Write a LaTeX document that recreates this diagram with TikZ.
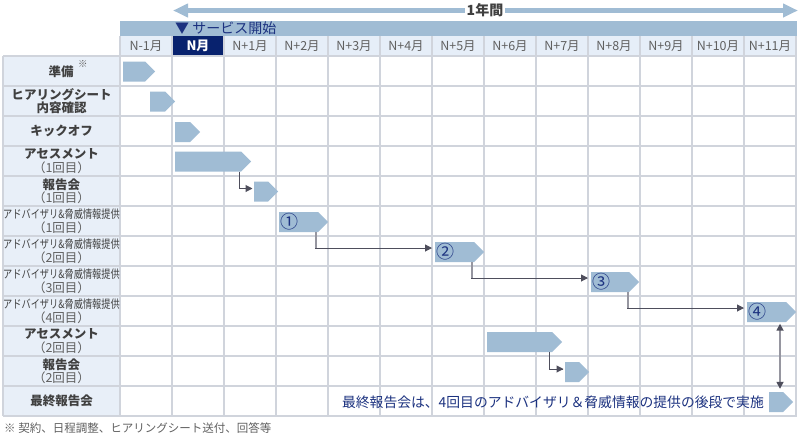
\documentclass[tikz,border=0pt]{standalone}
\usepackage{fontspec}
\setmainfont{Noto Sans CJK JP}
\usetikzlibrary{shapes.symbols,arrows.meta,calc}
\definecolor{barblue}{RGB}{160,188,212}
\definecolor{navy}{RGB}{8,34,110}
\definecolor{navytext}{RGB}{28,50,128}
\definecolor{labelbg}{RGB}{232,239,248}
\definecolor{monthbg}{RGB}{230,238,248}
\definecolor{gridc}{RGB}{208,212,220}
\definecolor{txt}{RGB}{64,64,64}
\definecolor{subtxt}{RGB}{96,96,96}
\definecolor{monthtxt}{RGB}{96,96,96}
\definecolor{conn}{RGB}{78,78,92}
\definecolor{connv}{RGB}{150,150,160}
\begin{document}
\begin{tikzpicture}[x=1pt,y=-1pt,
  bar/.style={shape=signal, signal to=east, signal pointer angle=90, fill=barblue, draw=none, inner sep=0pt, minimum height=20pt, anchor=west},
  gridline/.style={draw=gridc, line width=1.2pt},
  month/.style={font=\fontsize{12.5}{13}\selectfont, text=monthtxt, inner sep=0pt},
  lab/.style={align=center, inner sep=0pt, text=txt, font=\fontsize{12.5}{13.5}\selectfont\bfseries},
  advlab/.style={align=center, inner sep=0pt, text=txt, font=\fontsize{11}{13.5}\selectfont},
  circnum/.style={anchor=west, inner sep=0pt, text=navytext, font=\fontsize{18}{18}\selectfont},
  connh/.style={draw=conn, line width=1pt, -{Triangle[length=7pt,width=7pt]}},
  connvert/.style={draw=connv, line width=1.8pt},
  conndark/.style={draw=conn, line width=1pt}
]
\useasboundingbox (0,0) rectangle (800,440);
\fill[white] (0,0) rectangle (800,440);

% top "1 year" arrow
\coordinate (ys) at (173,10.5);
\coordinate (ye) at (798,10.5);
\draw[barblue, line width=5pt, {Triangle[length=15pt,width=13pt]}-{Triangle[length=15pt,width=13pt]}] (ys) -- (ye);
\node[fill=white, inner sep=2pt, text=txt, font=\fontsize{14}{14}\selectfont\bfseries] (year) at (485,10.5) {1年間};

% service start bar
\fill[barblue] (120,21) rectangle (797,36);
\node[anchor=west, inner sep=0pt, text=navytext, font=\fontsize{14}{14}\selectfont] (start) at (175,28.5) {▼ サービス開始};

% month row
\fill[monthbg] (120,36) rectangle (797,56);
\fill[navy] (172,36) rectangle (224,56);
% label column
\fill[labelbg] (3,56) rectangle (120,416);

% grid
\foreach \i in {0,...,12} \draw[gridline] (3,{56+30*\i}) -- (797,{56+30*\i});
\draw[gridline] (3,56) -- (3,416);
\draw[gridline] (120,36) -- (120,416);
\foreach \x in {172,224,...,744} \draw[gridline] (\x,36) -- (\x,416);
\draw[gridline] (796,36) -- (796,416);
\fill[navy] (172.6,36) rectangle (223.4,55.4);

% month labels
\node[month] (m0) at (146,46) {N-1月};
\node[month, text=white, font=\fontsize{13}{13}\selectfont\bfseries] (m1) at (198,46) {N月};
\foreach \k [evaluate=\k as \xc using 198+52*\k] in {1,...,11}
  \node[month] (m\k x) at (\xc,46) {N+\k 月};

% row labels
\node[lab] (l1) at (61,71.5) {準備};
\node[anchor=west, inner sep=0pt, text=subtxt, font=\fontsize{9.5}{9.5}\selectfont] (note) at (78,64) {※};
\node[lab] (l2) at (61.5,101) {ヒアリングシート\\内容確認};
\node[lab] (l3) at (61.5,131) {キックオフ};
\node[lab] (l4) at (61.5,161) {アセスメント\\{\mdseries\color{subtxt}\fontsize{12.5}{13.5}\selectfont （1回目）}};
\node[lab] (l5) at (61.5,191) {報告会\\{\mdseries\color{subtxt}\fontsize{12.5}{13.5}\selectfont （1回目）}};
\node[advlab] (l6) at (61.5,221) {\scalebox{0.8}[1]{\fontsize{11.5}{13.5}\selectfont アドバイザリ\&脅威情報提供}\\{\color{subtxt}\fontsize{12.5}{13.5}\selectfont （1回目）}};
\node[advlab] (l7) at (61.5,251) {\scalebox{0.8}[1]{\fontsize{11.5}{13.5}\selectfont アドバイザリ\&脅威情報提供}\\{\color{subtxt}\fontsize{12.5}{13.5}\selectfont （2回目）}};
\node[advlab] (l8) at (61.5,281) {\scalebox{0.8}[1]{\fontsize{11.5}{13.5}\selectfont アドバイザリ\&脅威情報提供}\\{\color{subtxt}\fontsize{12.5}{13.5}\selectfont （3回目）}};
\node[advlab] (l9) at (61.5,311) {\scalebox{0.8}[1]{\fontsize{11.5}{13.5}\selectfont アドバイザリ\&脅威情報提供}\\{\color{subtxt}\fontsize{12.5}{13.5}\selectfont （4回目）}};
\node[lab] (l10) at (61.5,341) {アセスメント\\{\mdseries\color{subtxt}\fontsize{12.5}{13.5}\selectfont （2回目）}};
\node[lab] (l11) at (61.5,371) {報告会\\{\mdseries\color{subtxt}\fontsize{12.5}{13.5}\selectfont （2回目）}};
\node[lab] (l12) at (61.5,401) {最終報告会};

% bars
\node[bar, minimum width=32pt] (b1) at (123,71.5) {};
\node[bar, minimum width=25pt] (b2) at (150,101.5) {};
\node[bar, minimum width=25pt] (b3) at (175,132) {};
\node[bar, minimum width=76pt] (b4) at (175,161.5) {};
\node[bar, minimum width=24pt] (b5) at (254,191.5) {};
\node[bar, minimum width=49pt] (b6) at (279,222) {};
\node[bar, minimum width=49pt] (b7) at (435,252) {};
\node[bar, minimum width=48pt] (b8) at (591,282) {};
\node[bar, minimum width=49pt] (b9) at (747,312) {};
\node[bar, minimum width=75pt] (b10) at (487,342) {};
\node[bar, minimum width=24pt] (b11) at (565,372) {};
\node[bar, minimum width=24pt] (b12) at (769,402) {};

% circled numbers
\node[circnum] (n1) at ([xshift=1pt]b6.west) {①};
\node[circnum] (n2) at ([xshift=1pt]b7.west) {②};
\node[circnum] (n3) at ([xshift=1pt]b8.west) {③};
\node[circnum] (n4) at ([xshift=1pt]b9.west) {④};

% connectors
\draw[conndark] ([xshift=64pt]b4.south west) |- coordinate[pos=0.5] (k1) ([xshift=-2pt,yshift=3pt]b5.west);
\draw[connh] (k1) -- ([xshift=-1.5pt,yshift=3pt]b5.west);

\path ([xshift=37pt]b6.south west) |- coordinate[pos=0.5] (k2) ([yshift=4pt]b7.west);
\draw[connvert] ([xshift=37pt]b6.south west) -- (k2);
\draw[connh] ([xshift=-0.9pt]k2) -- ([xshift=-3pt,yshift=4pt]b7.west);

\path ([xshift=37pt]b7.south west) |- coordinate[pos=0.5] (k3) ([yshift=4pt]b8.west);
\draw[connvert] ([xshift=37pt]b7.south west) -- (k3);
\draw[connh] ([xshift=-0.9pt]k3) -- ([xshift=-3pt,yshift=4pt]b8.west);

\path ([xshift=37pt]b8.south west) |- coordinate[pos=0.5] (k4) ([yshift=4pt]b9.west);
\draw[connvert] ([xshift=37pt]b8.south west) -- (k4);
\draw[connh] ([xshift=-0.9pt]k4) -- ([xshift=-3pt,yshift=4pt]b9.west);

\draw[conndark] ([xshift=62pt]b10.south west) |- coordinate[pos=0.5] (k5) ([xshift=-2pt,yshift=3pt]b11.west);
\draw[connh] (k5) -- ([xshift=-1.5pt,yshift=3pt]b11.west);

% double arrow between 4th advisory and final report
\draw[draw=connv, line width=1.6pt, {Triangle[length=7pt,width=7pt,color=conn]}-{Triangle[length=7pt,width=7pt,color=conn]}, shorten <=1.5pt, shorten >=3pt] ([xshift=33pt]b9.south west) -- ([xshift=33pt]b9.south west |- b12.north);

% final text
\node[anchor=east, inner sep=0pt, text=navytext, font=\fontsize{13.8}{13.8}\selectfont] (fintext) at (764,402) {最終報告会は、4回目のアドバイザリ＆脅威情報の提供の後段で実施};

% footnote
\node[anchor=west, inner sep=0pt, text=subtxt, font=\fontsize{11.5}{11.5}\selectfont] (foot) at (4,428) {※ 契約、日程調整、ヒアリングシート送付、回答等};
\end{tikzpicture}
\end{document}
